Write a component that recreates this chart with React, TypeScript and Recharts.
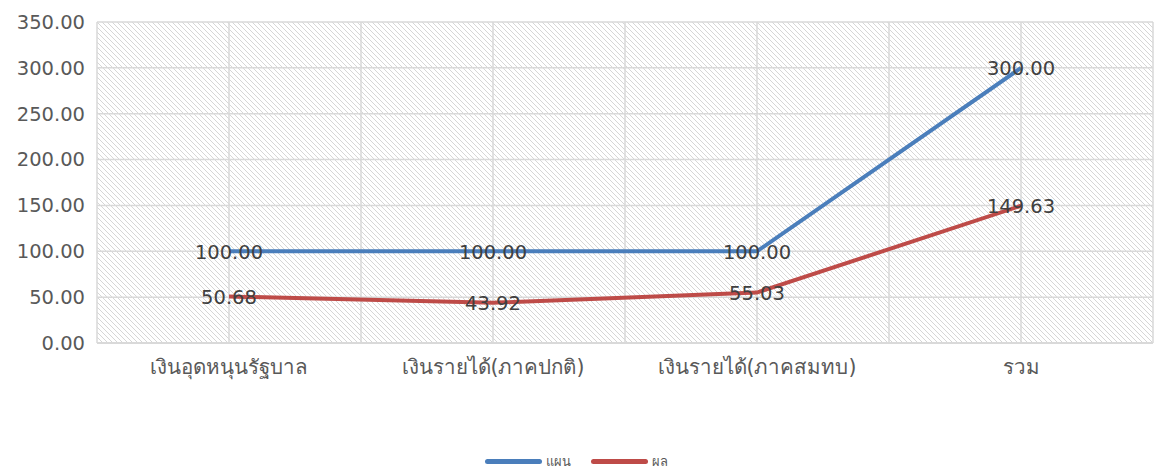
import { LineChart, Line, XAxis, YAxis, CartesianGrid, Legend, LabelList } from 'recharts';

const categories = ['เงินอุดหนุนรัฐบาล', 'เงินรายได้(ภาคปกติ)', 'เงินรายได้(ภาคสมทบ)', 'รวม'];
const planValues = [100, 100, 100, 300];
const resultValues = [50.68, 43.92, 55.03, 149.63];
const yTicks = [0, 50, 100, 150, 200, 250, 300, 350];

const FONT = '"DejaVu Sans", "Noto Sans", sans-serif';

// x sits in the middle of each category band, band edges carry grid lines too
const data = categories.map((name, i) => ({ name, x: i + 0.5, plan: planValues[i], result: resultValues[i] }));
const xTicks = categories.flatMap((_, i) => [i, i + 0.5]).concat([categories.length]);

const series = [
    { key: 'plan', name: 'แผน', color: '#4A7EBB' },
    { key: 'result', name: 'ผล', color: '#BE4B48' },
];

const renderValue = (props: any) => {
    const { x, y, value } = props;
    return (
        <text x={x} y={y + 1} textAnchor="middle" dominantBaseline="central" fill="#404040" fontSize={19.5} fontFamily={FONT}>
            {Number(value).toFixed(2)}
        </text>
    );
};

const renderLegend = () => (
    <div style={{ display: 'flex', justifyContent: 'center', gap: 20, paddingTop: 12, fontFamily: FONT, fontSize: 13, color: '#595959' }}>
        {series.map(s => (
            <div key={s.key} style={{ display: 'flex', alignItems: 'center', gap: 4 }}>
                <span style={{ display: 'inline-block', width: 57, height: 5, borderRadius: 3, background: s.color }} />
                <span>{s.name}</span>
            </div>
        ))}
    </div>
);

export default function App() {
    return (
        <div style={{ position: 'absolute', left: 0, top: 0, background: '#fff' }}>
            <svg width={0} height={0} style={{ position: 'absolute' }}>
                <defs>
                    <pattern id="hatch" width={5} height={5} patternUnits="userSpaceOnUse">
                        <path d="M-1,-1 L6,6 M-1,4 L1,6 M4,-1 L6,1" stroke="#d6d6d6" strokeWidth={1} />
                    </pattern>
                </defs>
            </svg>
            <LineChart width={1155} height={473} data={data} margin={{ top: 22, right: 2, left: 0, bottom: 0 }}>
                <CartesianGrid stroke="#d9d9d9" strokeWidth={1.5} fill="url(#hatch)" fillOpacity={1} />
                <XAxis
                    dataKey="x"
                    type="number"
                    domain={[0, categories.length]}
                    ticks={xTicks}
                    interval={0}
                    tickFormatter={(v: number) => (v % 1 === 0.5 ? categories[Math.floor(v)] : '')}
                    tick={{ fill: '#595959', fontSize: 20.5, fontFamily: FONT }}
                    tickLine={false}
                    tickSize={0}
                    tickMargin={16}
                    axisLine={{ stroke: '#d9d9d9', strokeWidth: 2 }}
                    height={96}
                />
                <YAxis
                    domain={[0, 350]}
                    ticks={yTicks}
                    tickFormatter={(v: number) => v.toFixed(2)}
                    tick={{ fill: '#595959', fontSize: 19.5, fontFamily: FONT }}
                    axisLine={false}
                    tickLine={false}
                    tickSize={0}
                    tickMargin={12}
                    width={97}
                />
                <Legend verticalAlign="bottom" height={34} content={renderLegend} />
                {series.map(s => (
                    <Line
                        key={s.key}
                        dataKey={s.key}
                        name={s.name}
                        stroke={s.color}
                        strokeWidth={4}
                        dot={false}
                        activeDot={false}
                        isAnimationActive={false}
                    >
                        <LabelList dataKey={s.key} content={renderValue} />
                    </Line>
                ))}
            </LineChart>
        </div>
    );
}
